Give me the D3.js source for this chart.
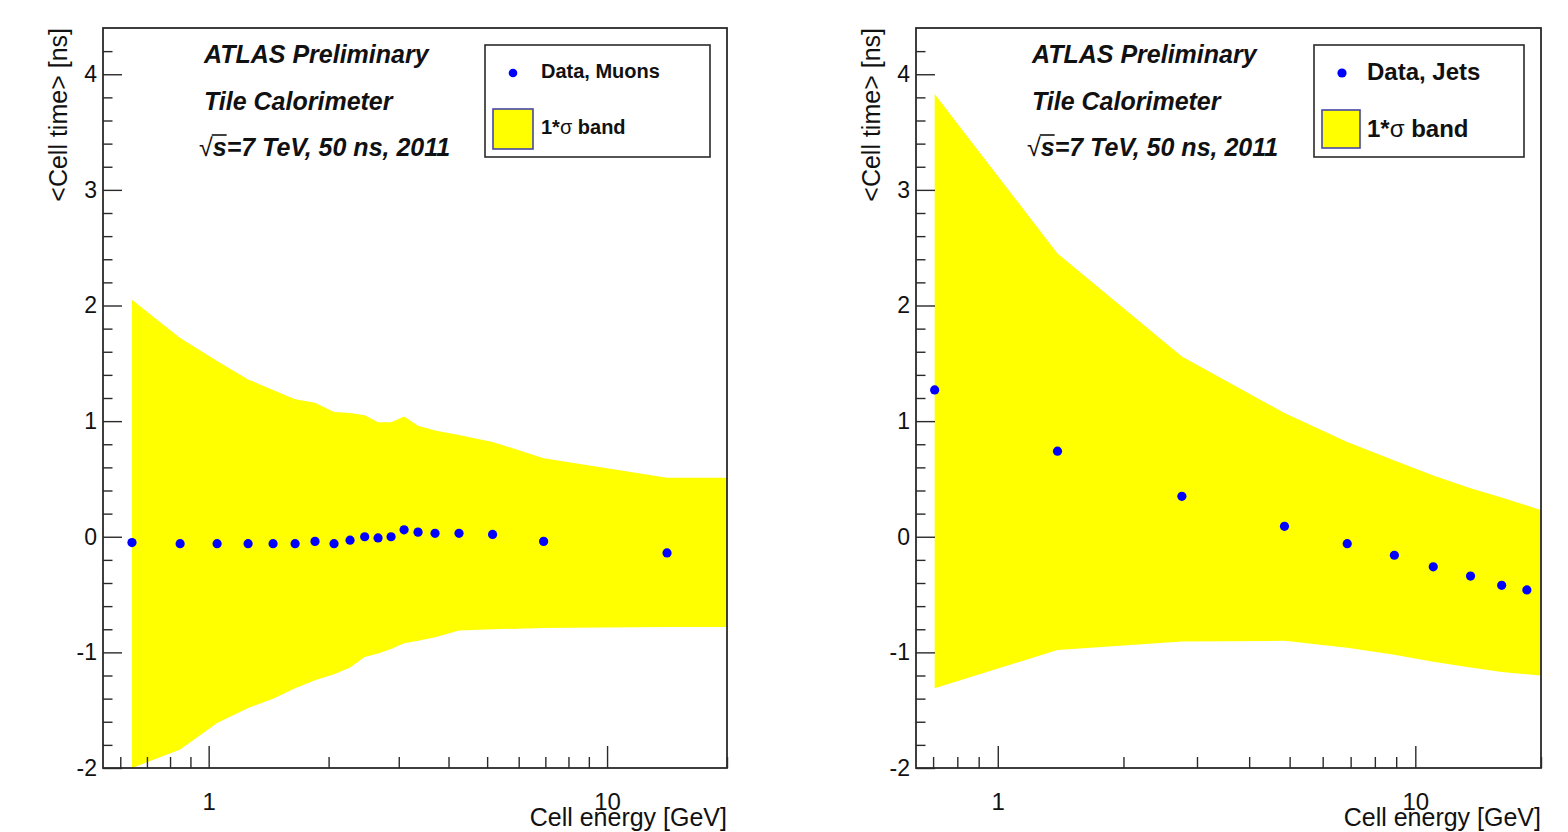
<!DOCTYPE html>
<html>
<head>
<meta charset="utf-8">
<script src="https://cdn.jsdelivr.net/npm/d3@7"></script>
<style>
  html, body { margin: 0; padding: 0; background: #fff; }
  svg { display: block; }
  text { font-family: "Liberation Sans", Arial, Helvetica, sans-serif; fill: #111; }
</style>
</head>
<body>
<svg id="chart" width="1568" height="832"></svg>
<script>
// ---------------- DATA ----------------
// Left panel: muons
const muonEnergy = [0.642, 0.848, 1.05, 1.256, 1.451, 1.648, 1.849, 2.064, 2.264, 2.464, 2.662, 2.870, 3.094, 3.354, 3.70, 4.25, 5.16, 6.93, 14.14];
const muonTime   = [-0.05, -0.06, -0.06, -0.06, -0.06, -0.06, -0.04, -0.06, -0.03, 0.00, -0.01, 0.00, 0.06, 0.04, 0.03, 0.03, 0.02, -0.04, -0.14];
const muonBandEnergy = [0.642, 0.848, 1.05, 1.256, 1.451, 1.648, 1.849, 2.064, 2.264, 2.464, 2.662, 2.870, 3.094, 3.354, 3.70, 4.25, 5.16, 6.93, 14.14, 20];
const muonBandHigh = [2.05, 1.72, 1.52, 1.36, 1.27, 1.19, 1.16, 1.08, 1.07, 1.05, 0.99, 0.99, 1.04, 0.96, 0.92, 0.88, 0.82, 0.68, 0.51, 0.51];
const muonBandLow  = [-2.00, -1.84, -1.61, -1.48, -1.40, -1.31, -1.24, -1.19, -1.13, -1.04, -1.01, -0.97, -0.92, -0.90, -0.87, -0.81, -0.80, -0.79, -0.78, -0.78];

// Right panel: jets
const jetEnergy = [0.706, 1.39, 2.76, 4.86, 6.87, 8.91, 11.04, 13.56, 16.1, 18.5];
const jetTime   = [1.27, 0.74, 0.35, 0.09, -0.06, -0.16, -0.26, -0.34, -0.42, -0.46];
const jetBandEnergy = [0.706, 1.39, 2.76, 4.86, 6.87, 8.91, 11.04, 13.56, 16.1, 18.5, 20];
const jetBandHigh = [3.83, 2.45, 1.56, 1.07, 0.82, 0.66, 0.53, 0.42, 0.34, 0.27, 0.23];
const jetBandLow  = [-1.31, -0.98, -0.905, -0.90, -0.96, -1.02, -1.08, -1.13, -1.17, -1.19, -1.20];

// Axes
const yDomain = [-2, 4.4];
const yMajorTicks = [-2, -1, 0, 1, 2, 3, 4];
const yTickLabels = ["-2", "-1", "0", "1", "2", "3", "4"];
const yMinorTicks = [-1.8,-1.6,-1.4,-1.2,-0.8,-0.6,-0.4,-0.2,0.2,0.4,0.6,0.8,1.2,1.4,1.6,1.8,2.2,2.4,2.6,2.8,3.2,3.4,3.6,3.8,4.2];
const xMajorTicks = [1, 10];
const xTickLabels = ["1", "10"];
const xMinorTicks = [0.6, 0.7, 0.8, 0.9, 2, 3, 4, 5, 6, 7, 8, 9, 20];

const xTitle = "Cell energy [GeV]";
const yTitle = "<Cell time> [ns]";
const infoLines = ["ATLAS Preliminary", "Tile Calorimeter"];
const energyLine = "=7 TeV, 50 ns, 2011";

// ---------------- LAYOUT ----------------
const panels = [
  { left: 103, right: 727, top: 28, bottom: 768, xDomain: [0.543, 20],
    energy: muonEnergy, time: muonTime, bandE: muonBandEnergy, bandHi: muonBandHigh, bandLo: muonBandLow,
    textX: 204, sqrtX: 199, titleX: 67,
    legend: { x: 485, y: 45, w: 225, h: 112, dotX: 513, dotY: 73, r: 4.3, textX: 541, t1Y: 78, t2Y: 134,
              boxX: 493, boxY: 109, boxS: 40, font: 20, label: "Data, Muons" } },
  { left: 916, right: 1541, top: 28, bottom: 768, xDomain: [0.637, 20],
    energy: jetEnergy, time: jetTime, bandE: jetBandEnergy, bandHi: jetBandHigh, bandLo: jetBandLow,
    textX: 1032, sqrtX: 1027, titleX: 880,
    legend: { x: 1314, y: 45, w: 210, h: 112, dotX: 1342, dotY: 73, r: 4.6, textX: 1367, t1Y: 80, t2Y: 137,
              boxX: 1322, boxY: 110, boxS: 38, font: 24, label: "Data, Jets" } }
];

const svg = d3.select("#chart");
const frameColor = "#2a2a2a";

panels.forEach((p, idx) => {
  const x = d3.scaleLog().domain(p.xDomain).range([p.left, p.right]);
  const y = d3.scaleLinear().domain(yDomain).range([p.bottom, p.top]);
  const g = svg.append("g");

  const clipId = "clip" + idx;
  svg.append("clipPath").attr("id", clipId)
    .append("rect").attr("x", p.left).attr("y", p.top)
    .attr("width", p.right - p.left).attr("height", p.bottom - p.top);

  // band
  const bandData = p.bandE.map((e, i) => ({ e, hi: p.bandHi[i], lo: p.bandLo[i] }));
  const area = d3.area().x(d => x(d.e)).y0(d => y(d.lo)).y1(d => y(d.hi));
  g.append("path").datum(bandData).attr("d", area)
    .attr("fill", "#ffff00").attr("clip-path", `url(#${clipId})`);

  // y axis ticks
  const yMinor = d3.axisLeft(y).tickValues(yMinorTicks).tickSizeInner(-9.5).tickSizeOuter(0).tickFormat("");
  const gyMinor = g.append("g").attr("transform", `translate(${p.left},0)`).call(yMinor);
  const yMajor = d3.axisLeft(y).tickValues(yMajorTicks).tickSizeInner(-19).tickSizeOuter(0)
    .tickPadding(6).tickFormat((d, i) => yTickLabels[i]);
  const gyMajor = g.append("g").attr("transform", `translate(${p.left},0)`).call(yMajor);

  // x axis ticks
  const xMinorVals = xMinorTicks.filter(v => v >= p.xDomain[0] && v <= p.xDomain[1]);
  const xMinor = d3.axisBottom(x).tickValues(xMinorVals).tickSizeInner(-11).tickSizeOuter(0).tickFormat("");
  const gxMinor = g.append("g").attr("transform", `translate(0,${p.bottom})`).call(xMinor);
  const xMajor = d3.axisBottom(x).tickValues(xMajorTicks).tickSizeInner(-22).tickSizeOuter(0)
    .tickPadding(25).tickFormat((d, i) => xTickLabels[i]);
  const gxMajor = g.append("g").attr("transform", `translate(0,${p.bottom})`).call(xMajor);

  [gyMinor, gyMajor, gxMinor, gxMajor].forEach(a => {
    a.select(".domain").remove();
    a.selectAll("line").attr("stroke", frameColor).attr("stroke-width", 1.4);
    a.selectAll("text").attr("font-family", "Liberation Sans, Arial, sans-serif").attr("fill", "#111");
  });
  gyMajor.selectAll("text").attr("font-size", 23);
  gxMajor.selectAll("text").attr("font-size", 24);

  // frame
  g.append("rect").attr("x", p.left).attr("y", p.top)
    .attr("width", p.right - p.left).attr("height", p.bottom - p.top)
    .attr("fill", "none").attr("stroke", frameColor).attr("stroke-width", 1.8);

  // data points
  g.selectAll("circle.pt").data(p.energy.map((e, i) => ({ e, t: p.time[i] })))
    .enter().append("circle").attr("class", "pt")
    .attr("cx", d => x(d.e)).attr("cy", d => y(d.t)).attr("r", 4.6)
    .attr("fill", "#0000ff");

  // axis titles
  g.append("text").attr("x", p.right).attr("y", 826).attr("text-anchor", "end")
    .attr("font-size", 25).text(xTitle);
  g.append("text").attr("transform", `translate(${p.titleX},${p.top}) rotate(-90)`)
    .attr("text-anchor", "end").attr("font-size", 25).text(yTitle);

  // info texts
  const infoY = [63, 110];
  infoLines.forEach((s, i) => {
    g.append("text").attr("x", p.textX).attr("y", infoY[i])
      .attr("font-size", 25).attr("font-weight", "bold").attr("font-style", "italic").text(s);
  });
  const sq = g.append("text").attr("x", p.sqrtX).attr("y", 156)
    .attr("font-size", 25).attr("font-weight", "bold").attr("font-style", "italic");
  sq.append("tspan").attr("font-weight", "normal").attr("font-style", "normal").text("√");
  sq.append("tspan").text("s");
  sq.append("tspan").text(energyLine);
  const node = sq.node();
  const ext0 = node.getExtentOfChar(0);
  const ext1 = node.getExtentOfChar(1);
  g.append("line").attr("x1", ext0.x + ext0.width - 1).attr("x2", ext1.x + ext1.width)
    .attr("y1", 156 - 21).attr("y2", 156 - 21)
    .attr("stroke", "#111").attr("stroke-width", 1.6);

  // legend
  const L = p.legend;
  g.append("rect").attr("x", L.x).attr("y", L.y).attr("width", L.w).attr("height", L.h)
    .attr("fill", "#fff").attr("stroke", frameColor).attr("stroke-width", 1.6);
  g.append("circle").attr("cx", L.dotX).attr("cy", L.dotY).attr("r", L.r).attr("fill", "#0000ff");
  g.append("text").attr("x", L.textX).attr("y", L.t1Y).attr("font-size", L.font)
    .attr("font-weight", "bold").text(L.label);
  g.append("rect").attr("x", L.boxX).attr("y", L.boxY).attr("width", L.boxS).attr("height", L.boxS)
    .attr("fill", "#ffff00").attr("stroke", "#4646a8").attr("stroke-width", 1.6);
  const t2 = g.append("text").attr("x", L.textX).attr("y", L.t2Y).attr("font-size", L.font)
    .attr("font-weight", "bold");
  t2.append("tspan").text("1*");
  t2.append("tspan").attr("font-weight", "normal").text("σ");
  t2.append("tspan").text(" band");
});
</script>
</body>
</html>
